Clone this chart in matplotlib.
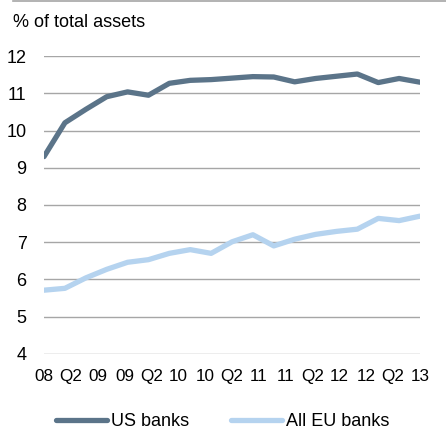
import numpy as np
import matplotlib
matplotlib.use("Agg")
import matplotlib.pyplot as plt
from matplotlib.lines import Line2D

plt.rcParams['font.family'] = ['Liberation Sans', 'DejaVu Sans']

# quarterly observations, Q4 2008 .. Q2 2013
us_banks = [9.30, 10.21, 10.57, 10.91, 11.04, 10.95, 11.27, 11.35, 11.37, 11.41,
            11.45, 11.44, 11.31, 11.40, 11.46, 11.52, 11.29, 11.40, 11.30]
eu_banks = [5.71, 5.76, 6.04, 6.27, 6.46, 6.53, 6.70, 6.80, 6.70, 7.01,
            7.20, 6.90, 7.08, 7.21, 7.29, 7.35, 7.64, 7.58, 7.70]
tick_labels = ["08", "Q2", "09", "09", "Q2", "10", "10", "Q2", "11", "11", "Q2", "12", "12", "Q2", "13"]
y_ticks = [4, 5, 6, 7, 8, 9, 10, 11, 12]

US_COL = "#5b7489"
EU_COL = "#b5d3ef"
FS = 13

fig = plt.figure(figsize=(4.46, 4.32), dpi=100)
ax = fig.add_axes([0.0987, 0.181, 0.843, 0.689])

x = np.arange(len(us_banks))
ax.plot(x, us_banks, color=US_COL, lw=3.8, solid_capstyle="round", zorder=3)
ax.plot(x, eu_banks, color=EU_COL, lw=3.8, solid_capstyle="round", zorder=3)

ax.set_ylim(4, 12)
ax.set_xlim(0, len(us_banks) - 1)
ax.set_yticks(y_ticks)
ax.set_yticklabels([str(v) for v in y_ticks], fontsize=FS)
# labels are spread evenly over the whole axis, like the original
ax.set_xticks(np.linspace(0, len(us_banks) - 1, len(tick_labels)))
ax.set_xticklabels(tick_labels, fontsize=12.3)
ax.tick_params(length=0)
ax.tick_params(axis="y", pad=12.5)
ax.tick_params(axis="x", pad=11)
ax.grid(axis="y", color="#a6a6a6", lw=1)
ax.set_axisbelow(True)
for s in ax.spines.values():
    s.set_visible(False)

fig.text(0.029, 0.949, "% of total assets", fontsize=FS, va="center", ha="left")
fig.add_artist(Line2D([0.029, 1.0], [0.998, 0.998], color="#a6a6a6", lw=1.2))

handles = [Line2D([], [], color=US_COL, lw=3.8, solid_capstyle="round"),
           Line2D([], [], color=EU_COL, lw=3.8, solid_capstyle="round")]
fig.legend(handles, ["US banks", "All EU banks"], loc="center", bbox_to_anchor=(0.5, 0.024),
           ncol=2, frameon=False, fontsize=FS, handlelength=2.8, handletextpad=0.25,
           columnspacing=2.3, borderpad=0)

fig.savefig("out.png", dpi=100)
